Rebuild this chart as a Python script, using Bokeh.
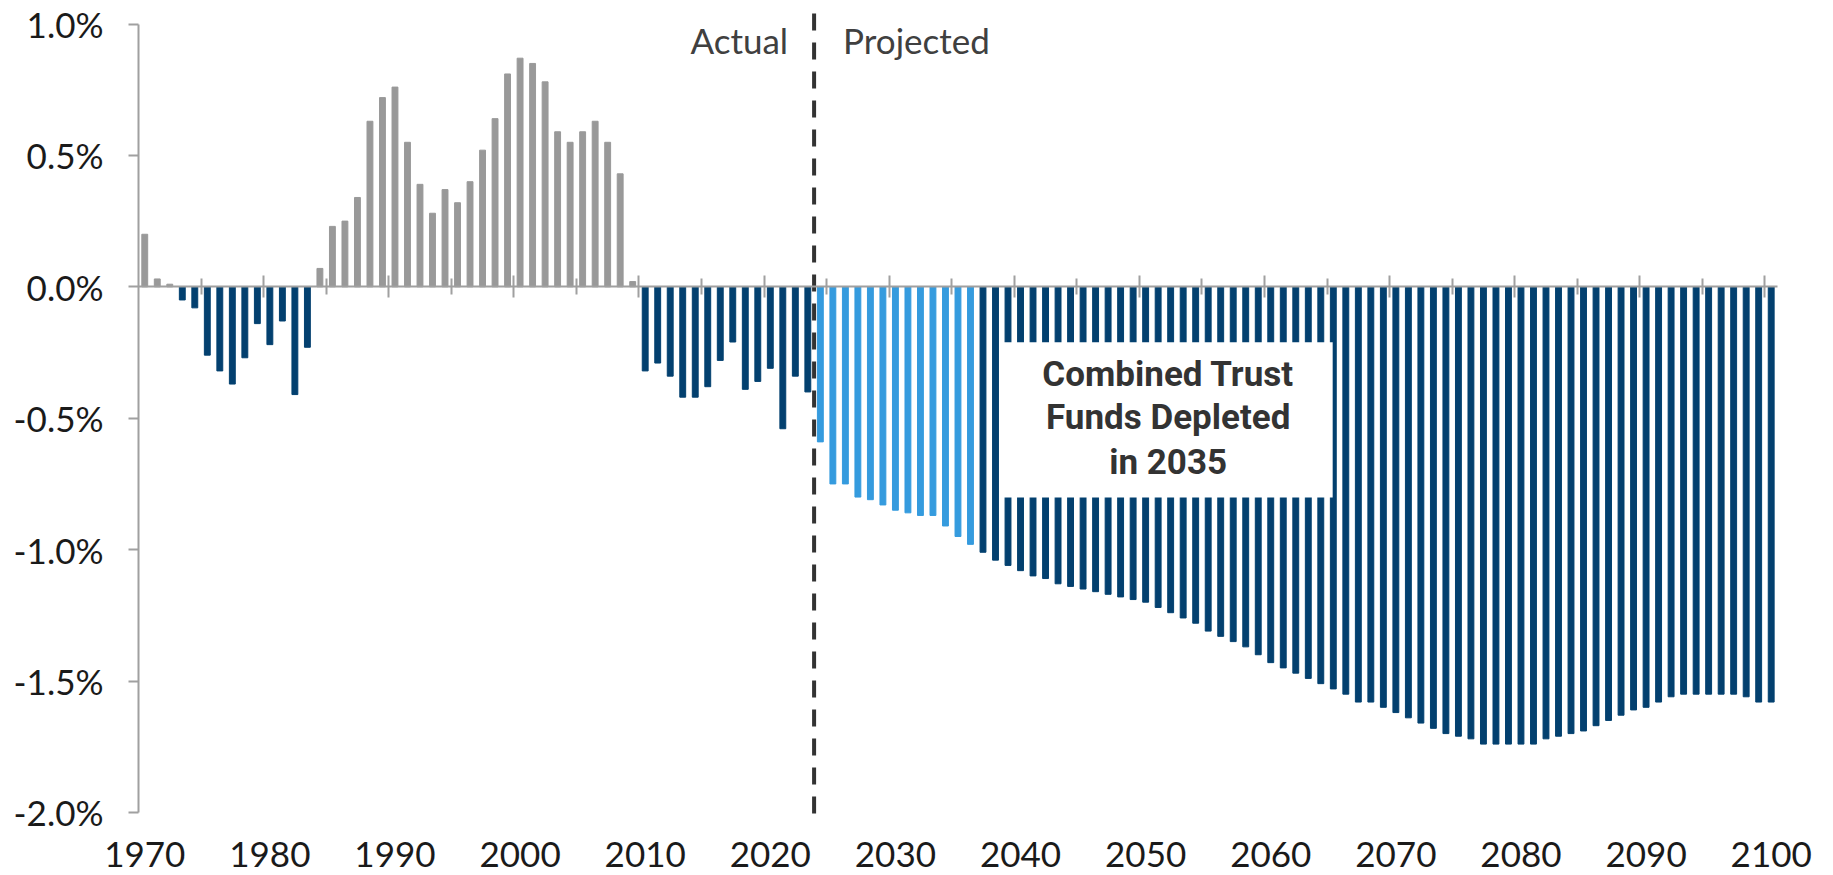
from bokeh.plotting import figure
from bokeh.models import (ColumnDataSource, LinearAxis, FixedTicker, PrintfTickFormatter,
                          CustomJSTickFormatter, BoxAnnotation, Label)
from bokeh.core.properties import value
from bokeh.embed import file_html
from bokeh.resources import INLINE

# ---------------- data ----------------
years = list(range(1970, 2101))

actual_values = [  # 1970-2023
    0.20, 0.03, 0.01, -0.05, -0.08, -0.26, -0.32, -0.37, -0.27, -0.14,
    -0.22, -0.13, -0.41, -0.23, 0.07, 0.23, 0.25, 0.34, 0.63, 0.72,
    0.76, 0.55, 0.39, 0.28, 0.37, 0.32, 0.40, 0.52, 0.64, 0.81,
    0.87, 0.85, 0.78, 0.59, 0.55, 0.59, 0.63, 0.55, 0.43, 0.02,
    -0.32, -0.29, -0.34, -0.42, -0.42, -0.38, -0.28, -0.21, -0.39, -0.36,
    -0.31, -0.54, -0.34, -0.40,
]

projected_values = [  # 2024-2100
    -0.59, -0.75, -0.75, -0.80, -0.81, -0.83,
    -0.85, -0.86, -0.87, -0.87, -0.91, -0.95, -0.98, -1.01, -1.04, -1.06,
    -1.08, -1.10, -1.11, -1.13, -1.14, -1.15, -1.16, -1.17, -1.18, -1.19,
    -1.20, -1.22, -1.24, -1.26, -1.28, -1.31, -1.33, -1.35, -1.37, -1.40,
    -1.43, -1.45, -1.47, -1.49, -1.51, -1.53, -1.55, -1.58, -1.58, -1.60,
    -1.62, -1.64, -1.66, -1.68, -1.70, -1.71, -1.72, -1.74, -1.74, -1.74,
    -1.74, -1.74, -1.72, -1.71, -1.70, -1.69, -1.67, -1.65, -1.63, -1.61,
    -1.60, -1.58, -1.56, -1.55, -1.55, -1.55, -1.55, -1.55, -1.56, -1.58,
    -1.58,
]

reserve_years = list(range(2024, 2037))   # light-blue projected bars
y_ticks = [-2.0, -1.5, -1.0, -0.5, 0.0, 0.5, 1.0]
x_label_years = [1970, 1980, 1990, 2000, 2010, 2020, 2030, 2040,
                 2050, 2060, 2070, 2080, 2090, 2100]
x_label_text = [str(y) for y in x_label_years]
last_actual_year = 2023
note_lines = ["Combined Trust", "Funds Depleted", "in 2035"]

# ---------------- styling ----------------
GRAY = "#999999"
NAVY = "#03406F"
LIGHT = "#359BDE"
AXIS_GRAY = "#A0A0A0"
TEXT = "#1A1A1A"
FONT = "Lato"
BASE_FIX = 14        # px correction for alphabetic baseline placement
Y_TOP = 1.04         # top of the dashed divider
Y_YEAR_LABELS = -2.160
X_LEFT = years[0] - 0.5
X_RIGHT = years[-1] + 0.5

values = actual_values + projected_values
colors = [GRAY if v > 0 else (LIGHT if y in reserve_years else NAVY)
          for y, v in zip(years, values)]
src = ColumnDataSource(dict(year=years, value=values, color=colors))

# the frame fills the whole canvas; axes are placed at fixed data locations
p = figure(width=1833, height=875,
           x_range=(1958.47, 2104.98), y_range=(-2.240, 1.0895),
           output_backend="svg", toolbar_location=None,
           x_axis_location=None, y_axis_location=None,
           min_border_left=0, min_border_right=0,
           min_border_top=0, min_border_bottom=0)
p.outline_line_color = None
p.grid.visible = False
p.background_fill_color = "white"

p.vbar(x="year", top="value", bottom=0, width=0.47, color="color", source=src)

# y axis (at the left edge of the bars)
y_axis = LinearAxis(
    fixed_location=X_LEFT,
    ticker=FixedTicker(ticks=y_ticks),
    formatter=PrintfTickFormatter(format="%.1f%%"),
    bounds=(y_ticks[0], y_ticks[-1]),
    axis_line_color=AXIS_GRAY, axis_line_width=2,
    major_tick_line_color=AXIS_GRAY, major_tick_line_width=2,
    major_tick_in=0, major_tick_out=10,
    minor_tick_line_color=None,
    major_label_standoff=25,
    major_label_text_font=FONT, major_label_text_font_size="35px",
    major_label_text_color=TEXT,
)
p.add_layout(y_axis, "left")

# zero line axis with tick marks between categories
zero_axis = LinearAxis(
    fixed_location=0,
    bounds=(X_LEFT, X_RIGHT),
    ticker=FixedTicker(ticks=[y - 0.5 for y in x_label_years[1:]],
                       minor_ticks=[y - 5.5 for y in x_label_years[1:]]),
    formatter=CustomJSTickFormatter(code="return ''"),
    axis_line_color=AXIS_GRAY, axis_line_width=2,
    major_tick_line_color=AXIS_GRAY, major_tick_line_width=2,
    major_tick_in=11, major_tick_out=11,
    minor_tick_line_color=AXIS_GRAY, minor_tick_line_width=2,
    minor_tick_in=8, minor_tick_out=8,
)
p.add_layout(zero_axis, "below")

# year labels under the bars
p.text(x=x_label_years, y=[Y_YEAR_LABELS] * len(x_label_years), text=x_label_text,
       text_align="center", text_baseline="alphabetic",
       text_font=value(FONT), text_font_size="35px", text_color=TEXT)

# Actual | Projected divider
div_x = last_actual_year + 0.5
p.segment(x0=[div_x], y0=[Y_TOP], x1=[div_x], y1=[y_ticks[0] - 0.0114],
          line_color="#333333", line_width=4, line_dash="17 12")
p.add_layout(Label(x=div_x, y=0.886, x_offset=-26, y_offset=BASE_FIX,
                   text="Actual", text_align="right", text_baseline="alphabetic",
                   text_font=FONT, text_font_size="35px", text_color="#404040"))
p.add_layout(Label(x=div_x, y=0.886, x_offset=29, y_offset=BASE_FIX,
                   text="Projected", text_align="left", text_baseline="alphabetic",
                   text_font=FONT, text_font_size="35px", text_color="#404040"))

# note box
p.add_layout(BoxAnnotation(left=2038.4, right=2064.95, top=-0.2105, bottom=-0.8017,
                           fill_color="white", fill_alpha=1.0, line_color=None))
for txt, yb in zip(note_lines, [-0.387, -0.551, -0.721]):
    p.add_layout(Label(x=2051.8, y=yb, y_offset=BASE_FIX, text=txt, text_align="center",
                       text_baseline="alphabetic", text_font="Roboto",
                       text_font_style="bold", text_font_size="35px",
                       text_color="#333333"))

open("out.html", "w").write(file_html(p, INLINE))
